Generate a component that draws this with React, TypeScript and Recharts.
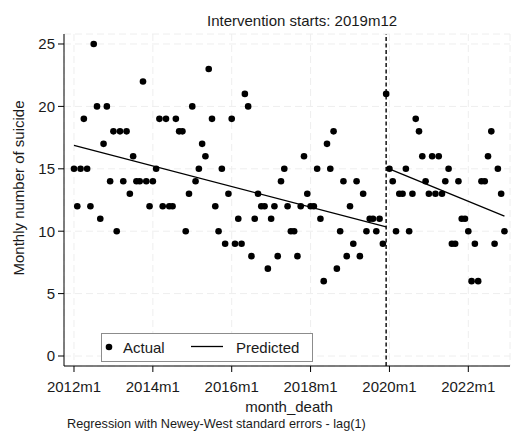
import {
  ComposedChart,
  Scatter,
  Line,
  XAxis,
  YAxis,
  CartesianGrid,
  ReferenceLine,
} from 'recharts';

// monthly suicide counts, 2012m1 .. 2022m12 (index 0 = 2012m1)
const actualCounts = [
  15, 12, 15, 19, 15, 12, 25, 20, 11, 17,
  20, 14, 18, 10, 18, 14, 18, 13, 16, 14,
  14, 22, 14, 12, 14, 15, 19, 12, 19, 12,
  12, 19, 18, 18, 10, 13, 20, 14, 15, 17,
  16, 23, 19, 12, 10, 15, 9, 13, 19, 9,
  11, 9, 21, 20, 8, 11, 13, 12, 12, 7,
  11, 12, 8, 14, 15, 12, 10, 10, 8, 12,
  16, 13, 12, 12, 15, 11, 6, 17, 15, 18,
  7, 10, 14, 8, 12, 9, 14, 8, 13, 10,
  11, 11, 10, 11, 9, 21, 15, 14, 10, 13,
  13, 15, 10, 13, 19, 18, 16, 14, 13, 16,
  13, 16, 13, 14, 15, 9, 9, 14, 11, 11,
  10, 6, 9, 6, 14, 14, 16, 18, 9, 15,
  13, 10,
];

// fitted segments (end points)
const prePredMonths = [0, 95];
const prePredValues = [16.88, 10.35];
const postPredMonths = [95, 131];
const postPredValues = [15.1, 11.2];

const interventionMonth = 95; // 2019m12

const xTicks = [0, 24, 48, 72, 96, 120];
const xTickLabels = ['2012m1', '2014m1', '2016m1', '2018m1', '2020m1', '2022m1'];
const yTicks = [0, 5, 10, 15, 20, 25];

const actualData = actualCounts.map((v, i) => ({ t: i, v }));
const preData = prePredMonths.map((t, i) => ({ t, v: prePredValues[i] }));
const postData = postPredMonths.map((t, i) => ({ t, v: postPredValues[i] }));

const FONT = '"Liberation Sans", Arial, sans-serif';
const INK = '#1a1a1a';

const Dot = (props: any) => <circle cx={props.cx} cy={props.cy} r={3.3} fill="#000" />;

const LegendBox = () => (
  <div
    style={{
      position: 'absolute',
      left: 101,
      top: 333,
      width: 210,
      height: 27,
      border: '1px solid #8c8c8c',
      background: '#fff',
    }}
  >
    <svg width={210} height={27} style={{ position: 'absolute', left: 0, top: 0 }}>
      <circle cx={7} cy={13} r={3.3} fill="#000" />
      <text x={21} y={18.5} fontSize={15} fill={INK} fontFamily={FONT}>Actual</text>
      <line x1={89} x2={121} y1={12.5} y2={12.5} stroke="#000" strokeWidth={1.3} />
      <text x={134} y={18.5} fontSize={15} fill={INK} fontFamily={FONT}>Predicted</text>
    </svg>
  </div>
);

export default function App() {
  return (
    <div style={{ position: 'relative', width: 512, height: 432, background: '#fff', fontFamily: FONT }}>
      <style>{'body{margin:0}'}</style>
      <ComposedChart
        width={512}
        height={432}
        margin={{ top: 34, right: 2, bottom: 0, left: 0 }}
      >
        <CartesianGrid stroke="#eeeeee" strokeDasharray="7 4" />
        <XAxis
          type="number"
          dataKey="t"
          domain={[-3.04, 132.69]}
          allowDataOverflow
          ticks={xTicks}
          tickFormatter={(v) => xTickLabels[xTicks.indexOf(v)] ?? ''}
          height={66}
          tickSize={6}
          tickMargin={9}
          tick={{ fontSize: 15, fill: INK, fontFamily: FONT }}
          axisLine={{ stroke: '#000' }}
          tickLine={{ stroke: '#000' }}
        />
        <YAxis
          type="number"
          dataKey="v"
          domain={[-0.8, 25.8]}
          allowDataOverflow
          ticks={yTicks}
          width={64}
          tickSize={6}
          tickMargin={3}
          tick={{ fontSize: 15, fill: INK, fontFamily: FONT }}
          axisLine={{ stroke: '#000' }}
          tickLine={{ stroke: '#000' }}
        />
        <ReferenceLine
          x={interventionMonth}
          stroke="#222"
          strokeWidth={1.6}
          strokeDasharray="4 2.5"
        />
        <Scatter data={actualData} dataKey="v" shape={Dot} isAnimationActive={false} />
        <Line
          data={preData}
          dataKey="v"
          stroke="#000"
          strokeWidth={1.3}
          dot={false}
          isAnimationActive={false}
        />
        <Line
          data={postData}
          dataKey="v"
          stroke="#000"
          strokeWidth={1.3}
          dot={false}
          isAnimationActive={false}
        />
      </ComposedChart>

      <div
        style={{
          position: 'absolute',
          left: 207,
          top: 12,
          fontSize: 15,
          color: INK,
          whiteSpace: 'nowrap',
        }}
      >
        Intervention starts: 2019m12
      </div>
      <div
        style={{
          position: 'absolute',
          left: 18,
          top: 188,
          transform: 'translate(-50%, -50%) rotate(-90deg)',
          fontSize: 15,
          color: INK,
          whiteSpace: 'nowrap',
        }}
      >
        Monthly number of suicide
      </div>
      <div
        style={{
          position: 'absolute',
          left: 289,
          top: 398,
          transform: 'translateX(-50%)',
          fontSize: 15,
          color: INK,
          whiteSpace: 'nowrap',
        }}
      >
        month_death
      </div>
      <div
        style={{
          position: 'absolute',
          left: 67,
          top: 417,
          fontSize: 12.7,
          color: INK,
          whiteSpace: 'nowrap',
        }}
      >
        Regression with Newey-West standard errors - lag(1)
      </div>
      <LegendBox />
    </div>
  );
}
